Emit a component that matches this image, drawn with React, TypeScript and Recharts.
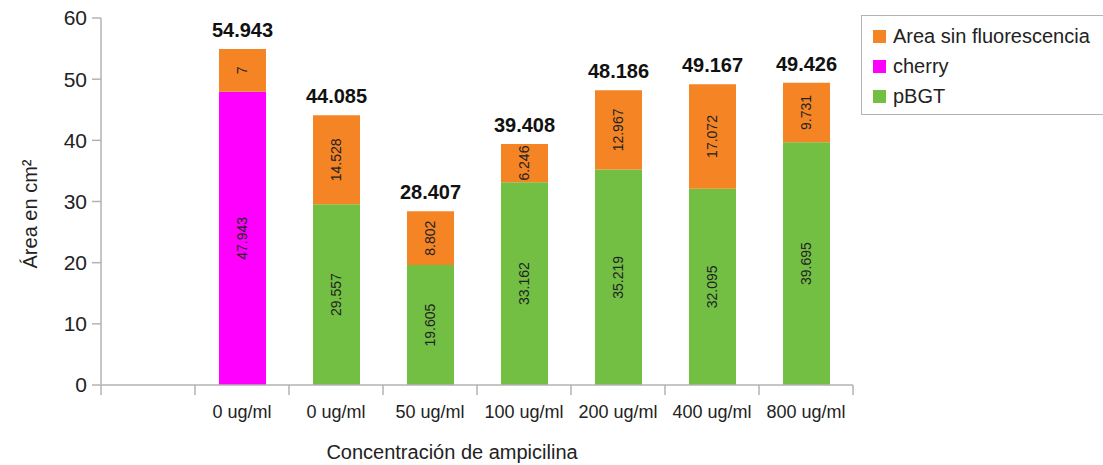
import React from 'react';
import { BarChart, Bar, XAxis, YAxis, LabelList } from 'recharts';

const categories = ['', '0 ug/ml', '0 ug/ml', '50 ug/ml', '100 ug/ml', '200 ug/ml', '400 ug/ml', '800 ug/ml'];
const cherry = [null, 47.943, null, null, null, null, null, null];
const pBGT = [null, null, 29.557, 19.605, 33.162, 35.219, 32.095, 39.695];
const sinFluor = [null, 7, 14.528, 8.802, 6.246, 12.967, 17.072, 9.731];
const totals = [null, 54.943, 44.085, 28.407, 39.408, 48.186, 49.167, 49.426];
const yTicks = [0, 10, 20, 30, 40, 50, 60];

const ORANGE = '#F58425';
const MAGENTA = '#FF00FF';
const GREEN = '#72BF44';
const AXIS = '#b3b3b3';
const FONT = '"Liberation Sans", Arial, sans-serif';

const legendItems = [
    { name: 'Area sin fluorescencia', color: ORANGE },
    { name: 'cherry', color: MAGENTA },
    { name: 'pBGT', color: GREEN },
];

const data = categories.map((c, i) => ({
    idx: i,
    cat: c,
    cherry: cherry[i],
    pBGT: pBGT[i],
    sinFluor: sinFluor[i],
    total: totals[i],
}));

const BAND = 94;

// ticks sit on the category boundaries, like the original spreadsheet chart
const XTick = (props: any) => {
    const { x, y, payload, index } = props;
    const label = categories[payload.value] ?? '';
    const last = index === categories.length - 1;
    return (
        <g>
            <line x1={x - BAND / 2} y1={y - 8} x2={x - BAND / 2} y2={y + 2} stroke={AXIS} strokeWidth={1.5} />
            {last && <line x1={x + BAND / 2} y1={y - 8} x2={x + BAND / 2} y2={y + 2} stroke={AXIS} strokeWidth={1.5} />}
            <text x={x} y={y + 25} textAnchor="middle" fontSize={18} fill="#222" fontFamily={FONT}>
                {label}
            </text>
        </g>
    );
};

const InnerLabel = (props: any) => {
    const { x, y, width, height, value } = props;
    if (value == null) return null;
    const cx = x + width / 2;
    const cy = y + height / 2;
    return (
        <text
            x={cx}
            y={cy}
            transform={`rotate(-90 ${cx} ${cy})`}
            textAnchor="middle"
            dominantBaseline="central"
            fontSize={14}
            fill="#222"
            fontFamily={FONT}
        >
            {String(value)}
        </text>
    );
};

const TotalLabel = (props: any) => {
    const { x, y, width, value } = props;
    if (value == null) return null;
    return (
        <text x={x + width / 2} y={y - 12} textAnchor="middle" fontSize={20} fontWeight="bold" fill="#111" fontFamily={FONT}>
            {Number(value).toFixed(3)}
        </text>
    );
};

export default function App() {
    return (
        <div style={{ position: 'absolute', left: 0, top: 0, width: 1103, height: 465, background: '#fff', fontFamily: FONT }}>
            <BarChart width={1103} height={465} data={data} margin={{ top: 18, right: 250, bottom: 0, left: 0 }} barSize={47}>
                <XAxis
                    dataKey="idx"
                    type="category"
                    height={80}
                    stroke={AXIS}
                    strokeWidth={1.5}
                    tickLine={false}
                    tick={<XTick />}
                    interval={0}
                />
                <YAxis
                    width={101}
                    domain={[0, 60]}
                    ticks={yTicks}
                    stroke={AXIS}
                    strokeWidth={1.5}
                    tickSize={9}
                    tickMargin={5}
                    tick={{ fontSize: 21, fill: '#222', fontFamily: FONT }}
                />
                <Bar dataKey="cherry" stackId="a" fill={MAGENTA} isAnimationActive={false}>
                    <LabelList dataKey="cherry" content={<InnerLabel />} />
                </Bar>
                <Bar dataKey="pBGT" stackId="a" fill={GREEN} isAnimationActive={false}>
                    <LabelList dataKey="pBGT" content={<InnerLabel />} />
                </Bar>
                <Bar dataKey="sinFluor" stackId="a" fill={ORANGE} isAnimationActive={false}>
                    <LabelList dataKey="sinFluor" content={<InnerLabel />} />
                    <LabelList dataKey="total" content={<TotalLabel />} />
                </Bar>
            </BarChart>
            <div
                style={{
                    position: 'absolute',
                    left: 30,
                    top: 214,
                    transform: 'translate(-50%, -50%) rotate(-90deg)',
                    fontSize: 20,
                    color: '#222',
                    whiteSpace: 'nowrap',
                }}
            >
                Área en cm²
            </div>
            <div
                style={{
                    position: 'absolute',
                    left: 452,
                    top: 452,
                    transform: 'translate(-50%, -50%)',
                    fontSize: 20,
                    color: '#222',
                    whiteSpace: 'nowrap',
                }}
            >
                Concentración de ampicilina
            </div>
            <div
                style={{
                    position: 'absolute',
                    left: 861,
                    top: 15,
                    width: 250,
                    height: 100,
                    border: `1.5px solid ${AXIS}`,
                    boxSizing: 'border-box',
                    padding: '5px 0 0 11px',
                }}
            >
                {legendItems.map((it) => (
                    <div key={it.name} style={{ display: 'flex', alignItems: 'center', height: 30.3, fontSize: 20, color: '#222' }}>
                        <span style={{ width: 13, height: 13, background: it.color, marginRight: 7, display: 'inline-block' }} />
                        {it.name}
                    </div>
                ))}
            </div>
        </div>
    );
}
